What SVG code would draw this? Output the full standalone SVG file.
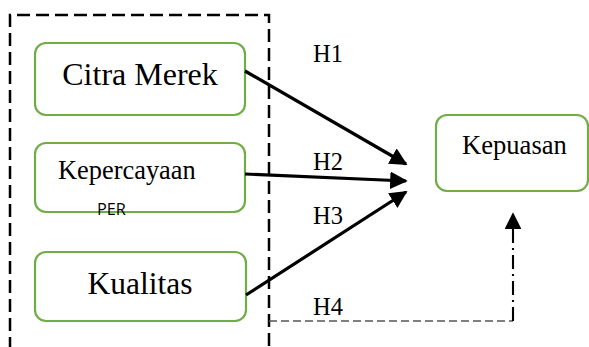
<svg xmlns="http://www.w3.org/2000/svg" width="589" height="347" viewBox="0 0 589 347">
  <style>
    .node rect { fill: #fff; stroke: #70AD47; stroke-width: 2.2; }
    .serif { font-family: "Liberation Serif", "Times New Roman", serif; fill: #000; }
    .edge { stroke: #000; stroke-width: 3.2; fill: none; }
  </style>
  <defs>
    <marker id="head" viewBox="0 0 10 10" refX="9" refY="5" markerWidth="5.5" markerHeight="5.5" markerUnits="strokeWidth" orient="auto">
      <path d="M0,0 L10,5 L0,10 Z" fill="#000"/>
    </marker>
    <marker id="headSmall" viewBox="0 0 10 10" refX="9" refY="5" markerWidth="8" markerHeight="8" markerUnits="strokeWidth" orient="auto">
      <path d="M0,0 L10,5 L0,10 Z" fill="#000"/>
    </marker>
  </defs>
  <rect width="589" height="347" fill="#fff"/>

  <!-- grouping frame around the independent variables -->
  <path id="frame" d="M10,350 V15 H269 V350" fill="none" stroke="#000" stroke-width="2.5" stroke-dasharray="13,6"/>

  <g id="citra-merek" class="node">
    <rect x="35" y="43" width="210" height="72" rx="11"/>
    <text class="serif" x="140" y="85" font-size="32" text-anchor="middle">Citra Merek</text>
  </g>

  <g id="kepercayaan" class="node">
    <rect x="35" y="143" width="210" height="69" rx="11"/>
    <text class="serif" x="58" y="179" font-size="26.4">Kepercayaan</text>
    <text x="97" y="215" font-family="'Open Sans', 'Liberation Sans', sans-serif" font-size="16.3" fill="#000">PER</text>
  </g>

  <g id="kualitas" class="node">
    <rect x="35" y="252" width="211" height="69" rx="11"/>
    <text class="serif" x="140" y="294" font-size="31.5" text-anchor="middle">Kualitas</text>
  </g>

  <g id="kepuasan" class="node">
    <rect x="436" y="115" width="152" height="76" rx="11"/>
    <text class="serif" x="462" y="154" font-size="26.6">Kepuasan</text>
  </g>

  <g id="connectors">
    <line class="edge" x1="245" y1="71" x2="406" y2="164" marker-end="url(#head)"/>
    <line class="edge" x1="245" y1="174" x2="406" y2="181" marker-end="url(#head)"/>
    <line class="edge" x1="246" y1="295" x2="406" y2="192" marker-end="url(#head)"/>
    <path d="M269,321 H513" fill="none" stroke="#555" stroke-width="1.6" stroke-dasharray="8,4"/>
    <path d="M513,321 V214" fill="none" stroke="#000" stroke-width="2.1" stroke-dasharray="14,5,2,5" marker-end="url(#headSmall)"/>
  </g>

  <g id="labels" font-size="24.5">
    <text class="serif" x="313" y="62">H1</text>
    <text class="serif" x="313" y="170">H2</text>
    <text class="serif" x="313" y="224">H3</text>
    <text class="serif" x="313" y="315">H4</text>
  </g>
</svg>
